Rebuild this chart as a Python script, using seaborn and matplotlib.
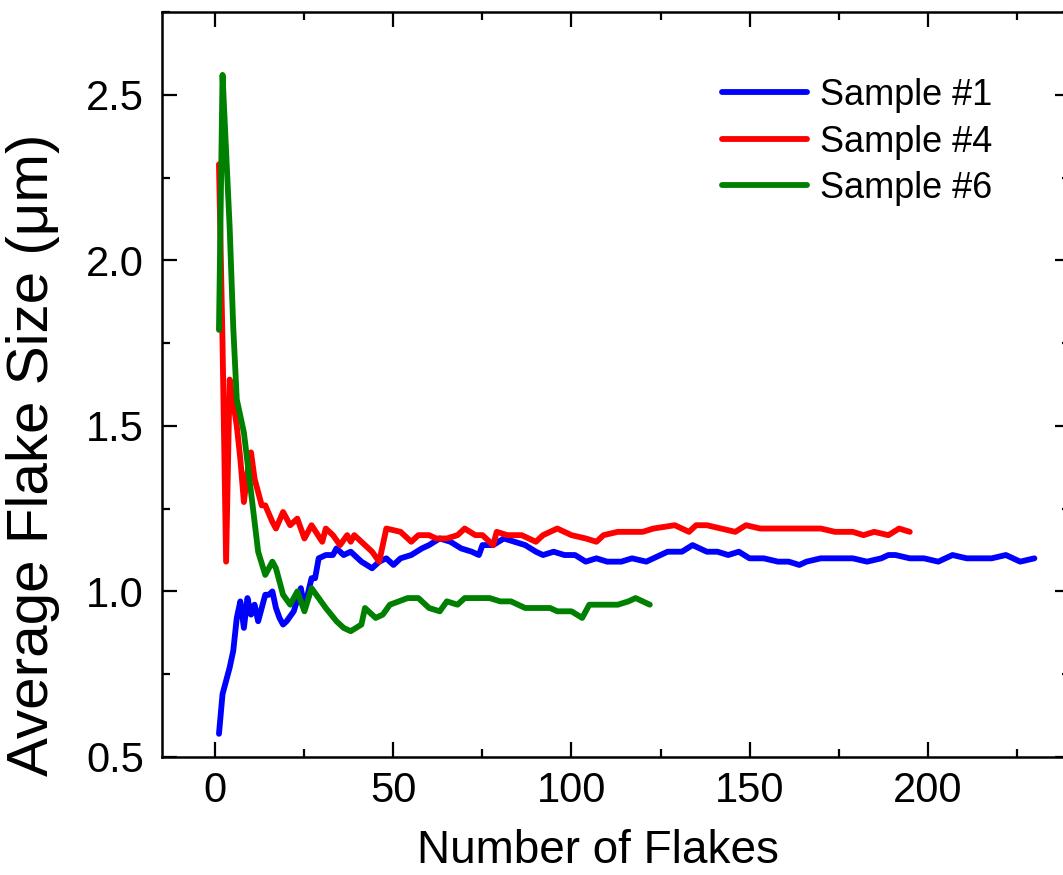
import pandas as pd
import seaborn as sns
import matplotlib.pyplot as plt
from matplotlib.ticker import MultipleLocator

# Sample #1 (blue)
s1_x = [1, 2, 3, 4, 5, 6, 7, 8, 9, 10, 11, 12, 13, 14, 15, 16, 17, 18, 19, 20,
        22, 24, 25, 27, 28, 29, 31, 33, 34, 36, 38, 41, 44, 46, 48, 50, 52, 55,
        58, 60, 63, 66, 69, 72, 74, 75, 78, 81, 84, 87, 90, 92, 95, 98, 101,
        104, 107, 110, 114, 117, 121, 123, 127, 131, 134, 138, 141, 144, 147,
        150, 154, 158, 161, 164, 166, 170, 174, 179, 183, 187, 189, 191, 195,
        199, 203, 207, 211, 215, 218, 222, 226, 230]
s1_y = [0.57, 0.69, 0.73, 0.77, 0.82, 0.92, 0.97, 0.89, 0.98, 0.93, 0.96, 0.91,
        0.95, 0.99, 0.99, 1.00, 0.95, 0.92, 0.90, 0.91, 0.94, 1.01, 0.95, 1.04,
        1.04, 1.10, 1.11, 1.11, 1.13, 1.11, 1.12, 1.09, 1.07, 1.09, 1.10, 1.08,
        1.10, 1.11, 1.13, 1.14, 1.16, 1.15, 1.13, 1.12, 1.11, 1.14, 1.14, 1.16,
        1.15, 1.14, 1.12, 1.11, 1.12, 1.11, 1.11, 1.09, 1.10, 1.09, 1.09, 1.10,
        1.09, 1.10, 1.12, 1.12, 1.14, 1.12, 1.12, 1.11, 1.12, 1.10, 1.10, 1.09,
        1.09, 1.08, 1.09, 1.10, 1.10, 1.10, 1.09, 1.10, 1.11, 1.11, 1.10, 1.10,
        1.09, 1.11, 1.10, 1.10, 1.10, 1.11, 1.09, 1.10]

# Sample #4 (red)
s4_x = [1, 2, 3, 4, 5, 6, 7, 8, 9, 10, 11, 13, 14, 16, 17, 19, 21, 23, 25, 27,
        30, 31, 33, 35, 37, 38, 39, 41, 44, 46, 48, 52, 55, 57, 60, 62, 65, 68,
        70, 73, 75, 78, 79, 82, 86, 90, 92, 96, 100, 104, 107, 109, 113, 117,
        120, 123, 129, 133, 135, 138, 142, 146, 149, 153, 158, 162, 166, 170,
        174, 179, 182, 185, 189, 192, 195]
s4_y = [2.29, 1.75, 1.09, 1.64, 1.57, 1.50, 1.40, 1.27, 1.36, 1.42, 1.34, 1.26,
        1.26, 1.21, 1.19, 1.24, 1.20, 1.22, 1.16, 1.20, 1.15, 1.19, 1.17, 1.14,
        1.17, 1.15, 1.17, 1.15, 1.12, 1.09, 1.19, 1.18, 1.15, 1.17, 1.17, 1.16,
        1.16, 1.17, 1.19, 1.17, 1.17, 1.14, 1.18, 1.17, 1.17, 1.15, 1.17, 1.19,
        1.17, 1.16, 1.15, 1.17, 1.18, 1.18, 1.18, 1.19, 1.20, 1.18, 1.20, 1.20,
        1.19, 1.18, 1.20, 1.19, 1.19, 1.19, 1.19, 1.19, 1.18, 1.18, 1.17, 1.18,
        1.17, 1.19, 1.18]

# Sample #6 (green)
s6_x = [1, 2, 3, 4, 5, 6, 7, 8, 10, 12, 14, 16, 17, 19, 21, 23, 25, 27, 29, 31,
        34, 36, 38, 41, 42, 45, 47, 49, 54, 57, 60, 63, 65, 68, 70, 74, 77, 80,
        83, 87, 90, 94, 96, 100, 103, 105, 109, 113, 116, 118, 122]
s6_y = [1.79, 2.56, 2.33, 2.10, 1.80, 1.58, 1.53, 1.48, 1.30, 1.12, 1.05, 1.09,
        1.07, 0.99, 0.96, 1.00, 0.94, 1.01, 0.98, 0.95, 0.91, 0.89, 0.88, 0.90,
        0.95, 0.92, 0.93, 0.96, 0.98, 0.98, 0.95, 0.94, 0.97, 0.96, 0.98, 0.98,
        0.98, 0.97, 0.97, 0.95, 0.95, 0.95, 0.94, 0.94, 0.92, 0.96, 0.96, 0.96,
        0.97, 0.98, 0.96]

labels = ['Sample #1', 'Sample #4', 'Sample #6']
colors = ['#0000ff', '#ff0000', '#008000']

df = pd.concat([
    pd.DataFrame({'n': s1_x, 'size': s1_y, 'sample': labels[0]}),
    pd.DataFrame({'n': s4_x, 'size': s4_y, 'sample': labels[1]}),
    pd.DataFrame({'n': s6_x, 'size': s6_y, 'sample': labels[2]}),
])

sns.set_style('ticks')
plt.rcParams['font.family'] = ['Liberation Sans', 'DejaVu Sans']
plt.rcParams['text.color'] = 'black'
plt.rcParams['axes.labelcolor'] = 'black'
plt.rcParams['xtick.color'] = 'black'
plt.rcParams['ytick.color'] = 'black'

fig = plt.figure(figsize=(10.63, 8.75), dpi=100)
ax = fig.add_axes([162 / 1063, 118 / 875, 908 / 1063, 745 / 875])

sns.lineplot(data=df, x='n', y='size', hue='sample',
             palette=dict(zip(labels, colors)), estimator=None,
             linewidth=4.2, ax=ax)

ax.set_xlim(-15, 240)
ax.set_ylim(0.5, 2.75)
ax.xaxis.set_major_locator(MultipleLocator(50))
ax.xaxis.set_minor_locator(MultipleLocator(25))
ax.yaxis.set_major_locator(MultipleLocator(0.5))
ax.yaxis.set_minor_locator(MultipleLocator(0.25))
ax.yaxis.set_major_formatter(plt.FormatStrFormatter('%.1f'))

ax.tick_params(which='both', direction='in', top=True, right=True,
               width=1.6, color='black', labelcolor='black')
ax.tick_params(which='major', length=11, labelsize=30)
ax.tick_params(axis='y', which='major', pad=13)
ax.tick_params(axis='x', which='major', pad=10)
ax.tick_params(which='minor', length=6)
for sp in ax.spines.values():
    sp.set_linewidth(1.8)
    sp.set_color('black')

ax.set_xlabel('Number of Flakes', fontsize=33)
ax.set_ylabel('Average Flake Size (μm)', fontsize=42)
ax.xaxis.set_label_coords(0.48, -0.097)
ax.yaxis.set_label_coords(-0.112, 0.405)

leg = ax.legend(frameon=False, fontsize=26, loc='upper left',
                bbox_to_anchor=(722 / 1063, 1 - 78 / 875),
                bbox_transform=fig.transFigure, borderpad=0,
                borderaxespad=0, handlelength=2.35, handletextpad=0.35,
                labelspacing=0.32)
for line in leg.get_lines():
    line.set_linewidth(4.2)

fig.savefig('out.png', dpi=100)
